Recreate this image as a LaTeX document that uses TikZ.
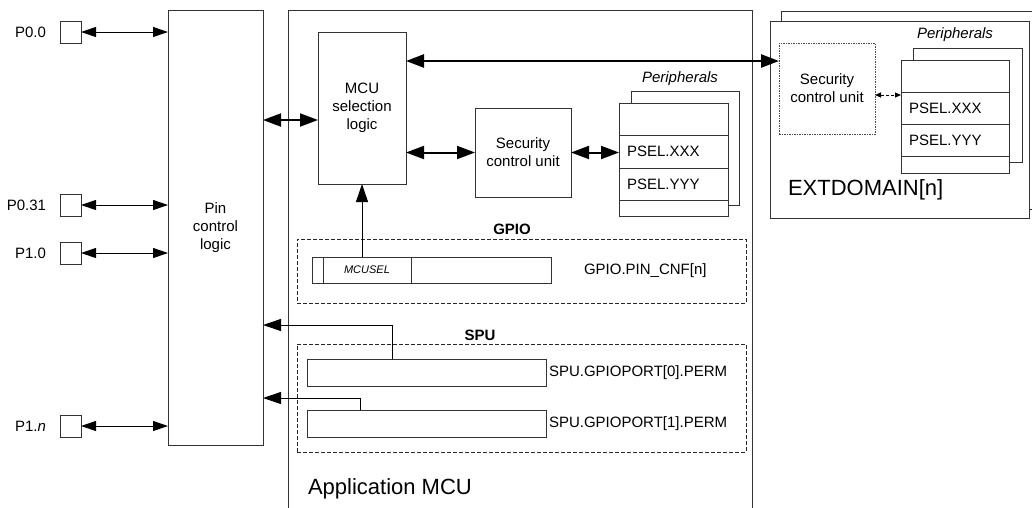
\documentclass[tikz,border=0pt]{standalone}
\usepackage{fontspec}
\setmainfont{Liberation Sans}
\usetikzlibrary{positioning, arrows.meta, calc}

\begin{document}
\begin{tikzpicture}[
    x=1pt, y=-1pt,
    every node/.style={font=\fontsize{15}{18}\selectfont, inner sep=0pt, outer sep=0pt},
    box/.style={draw=black!80, line width=1pt, align=center},
    pad/.style={box, minimum width=21pt, minimum height=22pt},
    row/.style={box, fill=white, text width=#1, inner xsep=8pt, align=left},
    zone/.style={draw=black!85, line width=1pt, dash pattern=on 4pt off 2pt},
    title/.style={font=\fontsize{22}{26}\selectfont},
    plbl/.style={font=\fontsize{15}{18}\selectfont\itshape},
    hdr/.style={font=\fontsize{15}{18}\selectfont\bfseries},
    padarr/.style={{Triangle[length=15pt,width=10pt]}-{Triangle[length=15pt,width=10pt]}, line width=1pt},
    busarr/.style={{Triangle[length=18pt,width=13pt]}-{Triangle[length=18pt,width=13pt]}, line width=2pt},
    sigarr/.style={-{Triangle[length=18pt,width=12pt]}, line width=1pt},
    dotarr/.style={{Triangle[length=6pt,width=5pt]}-{Triangle[length=6pt,width=5pt]}, line width=1pt, dash pattern=on 3pt off 2pt},
]
\useasboundingbox (0,0) rectangle (1032,507);
\fill[white] (0,0) rectangle (1032,507);
\clip (0,0) rectangle (1032,507);

% ── Pins ─────────────────────────────────────────────────────────────────────
\node[pad] (p00)  at (70.5,32)  {};
\node[pad] (p031) at (70.5,205) {};
\node[pad] (p10)  at (70.5,253) {};
\node[pad] (p1n)  at (70.5,426) {};
\node[left=14pt of p00]  (p00lbl)  {P0.0};
\node[left=14pt of p031] (p031lbl) {P0.31};
\node[left=14pt of p10]  (p10lbl)  {P1.0};
\node[left=14pt of p1n]  (p1nlbl)  {P1.\textit{n}};

\node[box, minimum width=95pt, minimum height=435pt] (pin) at (215.5,227.5) {Pin\\control\\logic};

\foreach \p in {p00,p031,p10,p1n}
    \draw[padarr] (\p) -- (\p -| pin.west);

% ── Application MCU ──────────────────────────────────────────────────────────
\node[box, minimum width=464pt, minimum height=540pt, anchor=north west] (app) at (288,10) {};
\node[title, anchor=west] (applbl) at (308,489) {Application MCU};

\node[box, minimum width=88pt, minimum height=152pt] (mcu) at (362,108) {MCU\\selection\\logic};
\node[box, minimum width=96pt, minimum height=89pt]  (sec) at (523,152.5) {Security\\control unit};

\node[box, minimum width=108pt, minimum height=114pt] (perback) at (685,148) {};
\node[row=93pt, minimum height=32pt, anchor=north west] (pertop) at (619,103) {};
\node[row=93pt, minimum height=33pt, below=0pt of pertop] (perxxx) {PSEL.XXX};
\node[row=93pt, minimum height=32pt, below=0pt of perxxx] (peryyy) {PSEL.YYY};
\node[row=93pt, minimum height=16pt, below=0pt of peryyy] (perbot) {};
\node[plbl] (perlbl) at (680,79) {Peripherals};

% ── GPIO ─────────────────────────────────────────────────────────────────────
\node[zone, minimum width=449pt, minimum height=64pt] (gpio) at (521.5,271) {};
\node[hdr] (gpiolbl) at (512,229) {GPIO};
\node[box, minimum width=239pt, minimum height=26pt] (pincnf) at (431.5,270) {};
\node[box, minimum width=88pt, minimum height=26pt, font=\fontsize{11}{13}\selectfont\itshape] (mcusel) at (367,270) {MCUSEL};
\node[anchor=west] (pincnflbl) at (584,271) {GPIO.PIN\_CNF[n]};

% ── SPU ──────────────────────────────────────────────────────────────────────
\node[zone, minimum width=449pt, minimum height=108pt] (spu) at (521.5,398) {};
\node[hdr] (spulbl) at (480,335) {SPU};
\node[box, minimum width=239pt, minimum height=27pt] (perm0) at (426.5,372.5) {};
\node[box, minimum width=239pt, minimum height=27pt] (perm1) at (426.5,423.5) {};
\node[anchor=west] (perm0lbl) at (549,372.5) {SPU.GPIOPORT[0].PERM};
\node[anchor=west] (perm1lbl) at (549,423.5) {SPU.GPIOPORT[1].PERM};

% ── EXTDOMAIN ────────────────────────────────────────────────────────────────
\node[box, minimum width=253pt, minimum height=198pt] (extback) at (907.5,110) {};
\node[box, fill=white, minimum width=259pt, minimum height=197pt] (ext) at (899.5,119.5) {};
\node[title, anchor=west] (extlbl) at (788,190) {EXTDOMAIN[n]};
\node[box, draw=black!70, dash pattern=on 1.5pt off 1pt, minimum width=96pt, minimum height=91pt] (extsec) at (827,88.5) {Security\\control unit};

\node[box, minimum width=109pt, minimum height=114pt] (extperback) at (967.5,105) {};
\node[row=92pt, minimum height=32pt, anchor=north west] (exttop) at (901,60) {};
\node[row=92pt, minimum height=32pt, below=0pt of exttop] (extxxx) {PSEL.XXX};
\node[row=92pt, minimum height=32pt, below=0pt of extxxx] (extyyy) {PSEL.YYY};
\node[row=92pt, minimum height=17pt, below=0pt of extyyy] (extbot) {};
\node[plbl] (extperlbl) at (955,35) {Peripherals};

% ── Arrows ───────────────────────────────────────────────────────────────────
\coordinate (pinbus) at ($(mcu.west)+(0,12)$);
\coordinate (extbus) at ($(mcu.north east)+(0,29)$);
\coordinate (tap0) at (392,325);
\coordinate (tap1) at (360,398);

\draw[busarr] (pinbus -| pin.east) -- (pinbus);
\draw[busarr, line width=2.5pt] (extbus) -- (extbus -| extsec.west);
\draw[busarr] (mcu.east |- sec) -- (sec);
\draw[busarr] (sec) -- (sec -| perxxx.west);
\draw[dotarr] ($(extsec.east |- extxxx.north)+(0,3)$) -- ($(extxxx.north west)+(0,3)$);
\draw[sigarr] (mcusel.north -| mcu.south) -- (mcu.south);
\draw[sigarr] (perm0.north -| tap0) |- (pin.east |- tap0);
\draw[sigarr] (perm1.north -| tap1) |- (pin.east |- tap1);

\end{tikzpicture}
\end{document}
